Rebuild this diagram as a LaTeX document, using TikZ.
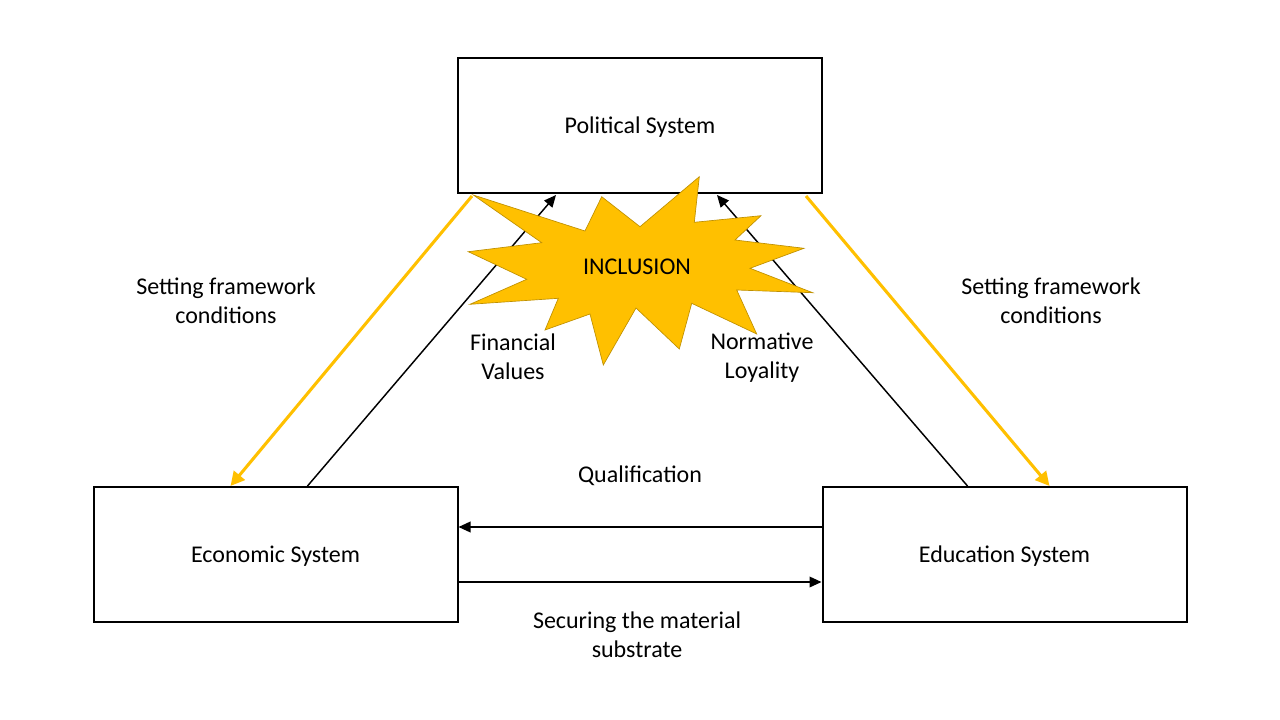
\documentclass[tikz,border=0pt]{standalone}
\usepackage{fontspec}
\setmainfont{Carlito}
\usetikzlibrary{arrows.meta,calc}
\definecolor{gold}{HTML}{FFC000}
\definecolor{golddark}{HTML}{BF9000}
\tikzset{
  sysbox/.style={draw=black,line width=1.5pt,minimum width=273pt,minimum height=101.25pt,inner sep=0pt,font=\fontsize{18}{22}\selectfont,text height=14pt,text depth=1.4pt},
  lbl/.style={align=center,font=\fontsize{18}{21.75}\selectfont,inner sep=0pt,yshift=-0.5pt},
  blk/.style={draw=black,line width=1.1pt,-{Triangle[length=9pt,width=8pt]}},
  org/.style={draw=gold,line width=2.3pt,-{Triangle[length=10.5pt,width=10.5pt]}},
}
\begin{document}
\begin{tikzpicture}[x=0.75pt,y=-0.75pt]
\useasboundingbox[fill=white] (0,0) rectangle (1280,720);
\node[sysbox] (pol) at (640,125.5) {Political System};
\node[sysbox] (eco) at (275.5,554.5) {Economic System};
\node[sysbox] (edu) at (1004.5,554.5) {Education System};
% connectors
\draw[blk] ($(eco.north west)+(215,0)$) -- ($(pol.south west)+(99,1)$);
\draw[blk] ($(edu.north west)+(146,0)$) -- ($(pol.south west)+(260,1)$);
\draw[blk] ($(edu.north west)+(0,41)$) -- ($(eco.north east)+(0,41)$);
\draw[blk] ($(eco.north east)+(0,96)$) -- ($(edu.north west)+(0,96)$);
\draw[org] ($(pol.south west)+(15,2)$) -- ($(eco.north west)+(138,0)$);
\draw[org] ($(pol.south east)+(-17,2)$) -- ($(edu.north west)+(228,0)$);
% starburst
\draw[fill=gold,draw=golddark,line width=0.5pt,line join=miter]
 (473.3,195) -- (585,231) -- (601.7,196.7) -- (640,226.7) -- (699.3,176.7)
 -- (694.3,222.3) -- (761,215.7) -- (735,240) -- (804,248.3) -- (750,268.3)
 -- (812.7,292.7) -- (736.7,290) -- (756.7,334) -- (691.7,303.3) -- (679.3,349)
 -- (636,308) -- (603.3,365) -- (590,314) -- (545,330) -- (558.3,298.3)
 -- (470,304.3) -- (526.7,279.3) -- (468.3,251.7) -- (541.7,242.7) -- cycle;
\node[lbl] (incl) at (637,266) {INCLUSION};
% labels
\node[lbl] (sfl) at (226,300) {Setting framework\\conditions};
\node[lbl] (sfr) at (1051,300) {Setting framework\\conditions};
\node[lbl] (fin) at (513,356) {Financial\\Values};
\node[lbl] (nor) at (762,357) {Normative\\Loyality};
\node[lbl] (qual) at (640,475) {Qualification};
\node[lbl] (sec) at (637,634) {Securing the material\\substrate};
\end{tikzpicture}
\end{document}
